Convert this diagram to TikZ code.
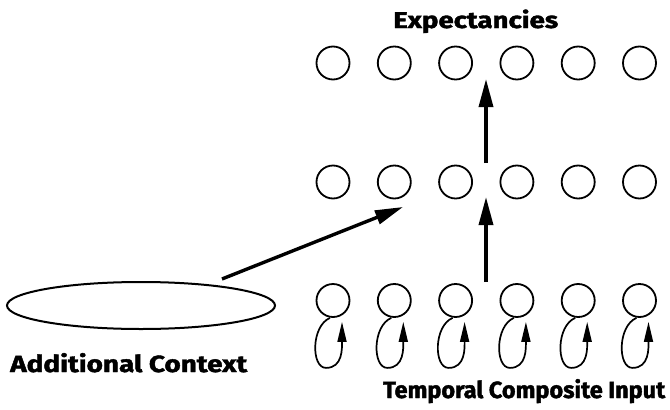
\documentclass[tikz,border=0pt]{standalone}
\usepackage{fontspec}
\setmainfont{Fira Sans}[BoldFeatures={FakeBold=1.6}]
\usetikzlibrary{arrows.meta,shapes.geometric}
\begin{document}
\begin{tikzpicture}[x=1pt,y=-1pt,
  unit/.style={draw, circle, line width=1.8pt, minimum size=33pt, inner sep=0pt},
  bigarrow/.style={line width=3.4pt, -{Triangle[length=28pt,width=14pt]}},
  selfloop/.style={line width=1.7pt, -{Triangle[length=20pt,width=9pt]}},
  lbltext/.style={anchor=base west, inner sep=0pt}]
\useasboundingbox (0,0) rectangle (670,410);

% three rows of six units
\foreach \i in {1,...,6} {
  \node[unit] (t\i) at ({333+61.3*(\i-1)},63) {};
  \node[unit] (h\i) at ({333+61.3*(\i-1)},182) {};
  \node[unit] (u\i) at ({333+61.3*(\i-1)},300.5) {};
  % recurrent self-connection of each input unit
  \draw[selfloop] ([xshift=-3pt]u\i.south) .. controls +(-19,8) and +(-15,0) .. ++(-4,50)
        .. controls +(17,0) and +(0,26) .. ([xshift=9pt,yshift=-4pt]u\i.south);
}

% context pool
\node[draw, ellipse, line width=2pt, minimum width=268pt, minimum height=47pt] (ctx) at (141,305.5) {};

% connection endpoints
\coordinate (ctxout) at (222,279);
\coordinate (hidin) at (403,207);
\coordinate (inup) at (486,282);
\coordinate (hidlow) at (486,197);
\coordinate (hidup) at (486,163);
\coordinate (explow) at (486,79);

\draw[bigarrow] (ctxout) -- (hidin);
\draw[bigarrow] (inup) -- (hidlow);
\draw[bigarrow] (hidup) -- (explow);

% labels
\node[lbltext] (lexp) at (393,28) {\resizebox{165pt}{18.5pt}{\bfseries Expectancies}};
\node[lbltext] (lctx) at (10,372) {\resizebox{237pt}{19pt}{\bfseries Additional Context}};
\node[lbltext] (linp) at (383,398) {\resizebox{282pt}{19pt}{\bfseries Temporal Composite Input}};
\end{tikzpicture}
\end{document}
